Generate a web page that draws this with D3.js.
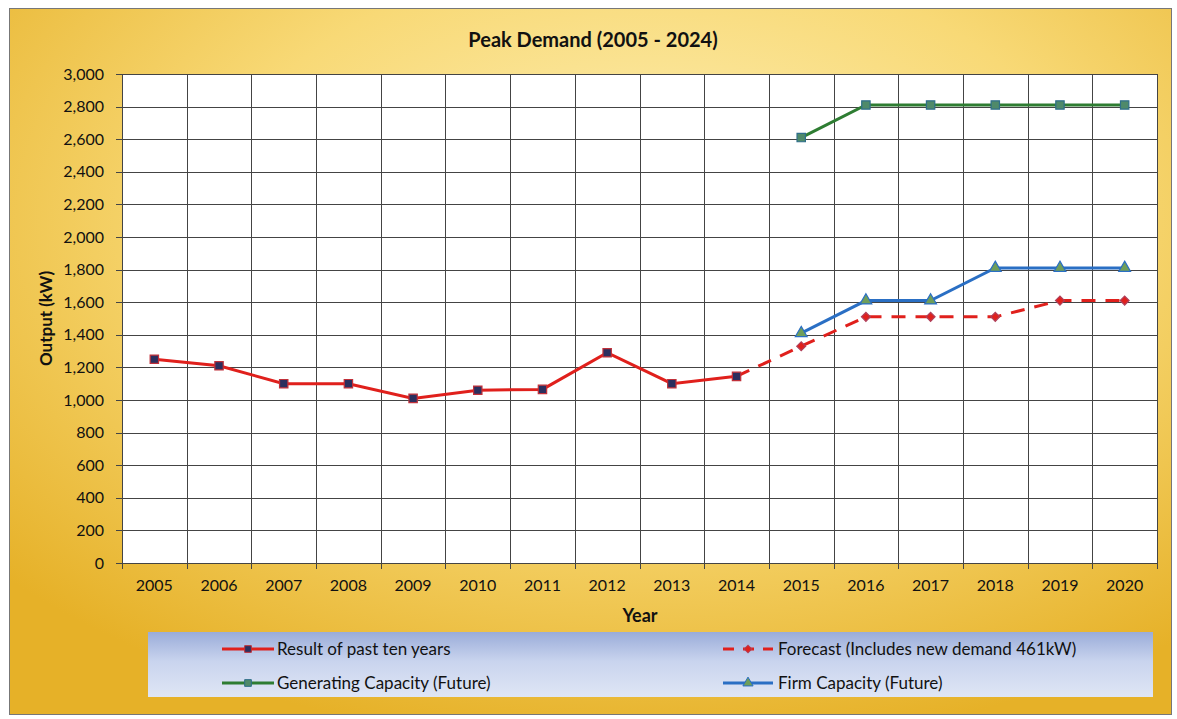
<!DOCTYPE html>
<html>
<head>
<meta charset="utf-8">
<script src="https://cdn.jsdelivr.net/npm/d3@7"></script>
<style>
  body { margin: 0; background: #fff; }
  svg text { font-family: Lato, "Open Sans", sans-serif; fill: #111; }
</style>
</head>
<body>
<div id="chart"></div>
<script>
// chart data
const years = ["2005","2006","2007","2008","2009","2010","2011","2012","2013","2014","2015","2016","2017","2018","2019","2020"];
const pastYears = ["2005","2006","2007","2008","2009","2010","2011","2012","2013","2014"];
const pastValues = [1250, 1210, 1100, 1100, 1010, 1060, 1065, 1290, 1100, 1145];
const forecastYears = ["2014","2015","2016","2017","2018","2019","2020"];
const forecastValues = [1145, 1330, 1510, 1510, 1510, 1610, 1610];
const futureYears = ["2015","2016","2017","2018","2019","2020"];
const generatingValues = [2610, 2810, 2810, 2810, 2810, 2810];
const firmValues = [1410, 1610, 1610, 1810, 1810, 1810];
const yTicks = d3.range(0, 3001, 200);

const width = 1177, height = 719;
const margin = { left: 122, right: 20, top: 74, bottom: 156 };

const svg = d3.select("#chart").append("svg")
  .attr("width", width)
  .attr("height", height);

const defs = svg.append("defs");
const bg = defs.append("radialGradient").attr("id", "bg")
  .attr("cx", "55%").attr("cy", "30%").attr("r", "75%");
bg.append("stop").attr("offset", "0%").attr("stop-color", "#fdf0b8");
bg.append("stop").attr("offset", "50%").attr("stop-color", "#f8d976");
bg.append("stop").attr("offset", "100%").attr("stop-color", "#e6b128");

const lg = defs.append("linearGradient").attr("id", "leg")
  .attr("x1", 0).attr("y1", 0).attr("x2", 0).attr("y2", 1);
lg.append("stop").attr("offset", "0%").attr("stop-color", "#9aacd9");
lg.append("stop").attr("offset", "45%").attr("stop-color", "#c9d4ee");
lg.append("stop").attr("offset", "100%").attr("stop-color", "#dfe6f5");

// background panel
svg.append("rect")
  .attr("x", 9.5).attr("y", 8.5)
  .attr("width", 1162).attr("height", 706)
  .attr("fill", "url(#bg)")
  .attr("stroke", "#777").attr("stroke-width", 1);

const x = d3.scaleBand()
  .domain(years)
  .range([margin.left, width - margin.right]);

const y = d3.scaleLinear()
  .domain([0, 3000])
  .range([height - margin.bottom, margin.top]);

const plotW = x.range()[1] - x.range()[0];

svg.append("rect")
  .attr("x", margin.left).attr("y", margin.top)
  .attr("width", plotW).attr("height", y(0) - y(3000))
  .attr("fill", "#fff");

// horizontal gridlines
svg.append("g")
  .selectAll("line")
  .data(yTicks)
  .join("line")
  .attr("x1", margin.left - 6).attr("x2", width - margin.right)
  .attr("y1", d => Math.round(y(d)) + 0.5).attr("y2", d => Math.round(y(d)) + 0.5)
  .attr("stroke", "#444").attr("stroke-width", 1);

// vertical gridlines at category edges
const edges = years.map(d => x(d)).concat([x.range()[1]]);
svg.append("g")
  .selectAll("line")
  .data(edges)
  .join("line")
  .attr("x1", d => Math.round(d) + 0.5).attr("x2", d => Math.round(d) + 0.5)
  .attr("y1", margin.top).attr("y2", y(0) + 6)
  .attr("stroke", "#444").attr("stroke-width", 1);

// y tick labels
svg.append("g")
  .selectAll("text")
  .data(yTicks)
  .join("text")
  .attr("x", margin.left - 18)
  .attr("y", d => y(d))
  .attr("dy", "0.35em")
  .attr("text-anchor", "end")
  .attr("font-size", "16px")
  .text(d => d3.format(",")(d));

// x tick labels
svg.append("g")
  .selectAll("text")
  .data(years)
  .join("text")
  .attr("x", d => x(d) + x.bandwidth() / 2)
  .attr("y", y(0) + 28)
  .attr("text-anchor", "middle")
  .attr("font-size", "16px")
  .text(d => d);

// titles
svg.append("text")
  .attr("x", 593).attr("y", 47)
  .attr("text-anchor", "middle")
  .attr("font-size", "20px").attr("font-weight", "bold")
  .text("Peak Demand (2005 - 2024)");

svg.append("text")
  .attr("x", 640).attr("y", 622)
  .attr("text-anchor", "middle")
  .attr("font-size", "18px").attr("font-weight", "bold")
  .text("Year");

svg.append("text")
  .attr("transform", `translate(52,${(y(0) + y(3000)) / 2}) rotate(-90)`)
  .attr("text-anchor", "middle")
  .attr("font-size", "17px").attr("font-weight", "bold")
  .text("Output (kW)");

const cx = d => x(d) + x.bandwidth() / 2;
const line = d3.line().x(d => cx(d[0])).y(d => y(d[1]));

function series(ys, vals, color, dash) {
  svg.append("path")
    .datum(ys.map((yr, i) => [yr, vals[i]]))
    .attr("fill", "none")
    .attr("stroke", color)
    .attr("stroke-width", 3)
    .attr("stroke-dasharray", dash || null)
    .attr("d", line);
}

series(forecastYears, forecastValues, "#e0201c", "14,10");
series(pastYears, pastValues, "#e0201c");
series(futureYears, generatingValues, "#2e7d32");
series(futureYears, firmValues, "#2a6fc4");

const sq = d3.symbol().type(d3.symbolSquare).size(70);
const dia = d3.symbol().type(d3.symbolSquare).size(40);
const tri = d3.symbol().type(d3.symbolTriangle).size(60);

function markers(ys, vals, sym, fill, stroke, rot) {
  svg.append("g")
    .selectAll("path")
    .data(ys.map((yr, i) => [yr, vals[i]]))
    .join("path")
    .attr("transform", d => `translate(${cx(d[0])},${y(d[1])}) rotate(${rot || 0})`)
    .attr("d", sym)
    .attr("fill", fill)
    .attr("stroke", stroke)
    .attr("stroke-width", 1.2);
}

markers(forecastYears.slice(1), forecastValues.slice(1), dia, "#e0201c", "#b0405a", 45);
markers(pastYears, pastValues, sq, "#2b2f5e", "#c0303a");
markers(futureYears, generatingValues, sq, "#4f8a6a", "#2e6e8a");
markers(futureYears, firmValues, tri, "#6f9e5a", "#2a6fc4");

// legend
svg.append("rect")
  .attr("x", 148).attr("y", 632)
  .attr("width", 1005).attr("height", 65)
  .attr("fill", "url(#leg)");

const legendItems = [
  { name: "Result of past ten years", color: "#e0201c", dash: null, sym: sq, size: 45, rot: 0, fill: "#2b2f5e", stroke: "#c0303a", lx: 222, ty: 649 },
  { name: "Forecast (Includes new demand 461kW)", color: "#e0201c", dash: "11,9", sym: dia, size: 30, rot: 45, fill: "#e0201c", stroke: "#b0405a", lx: 723, ty: 649 },
  { name: "Generating Capacity (Future)", color: "#2e7d32", dash: null, sym: sq, size: 45, rot: 0, fill: "#4f8a6a", stroke: "#2e6e8a", lx: 222, ty: 683 },
  { name: "Firm Capacity (Future)", color: "#2a6fc4", dash: null, sym: tri, size: 45, rot: 0, fill: "#6f9e5a", stroke: "#2a6fc4", lx: 723, ty: 683 }
];

const leg = svg.append("g")
  .selectAll("g")
  .data(legendItems)
  .join("g")
  .attr("transform", d => `translate(${d.lx},${d.ty})`);

leg.append("line")
  .attr("x1", 0).attr("x2", d => d.lx > 500 ? 50 : 52)
  .attr("stroke", d => d.color)
  .attr("stroke-width", 3)
  .attr("stroke-dasharray", d => d.dash);

leg.append("path")
  .attr("transform", d => `translate(${d.lx > 500 ? 25 : 26},0) rotate(${d.rot})`)
  .attr("d", d => d.sym.size(d.size)())
  .attr("fill", d => d.fill)
  .attr("stroke", d => d.stroke);

leg.append("text")
  .attr("x", 55)
  .attr("dy", "0.35em")
  .attr("font-size", "17px")
  .text(d => d.name);
</script>
</body>
</html>
